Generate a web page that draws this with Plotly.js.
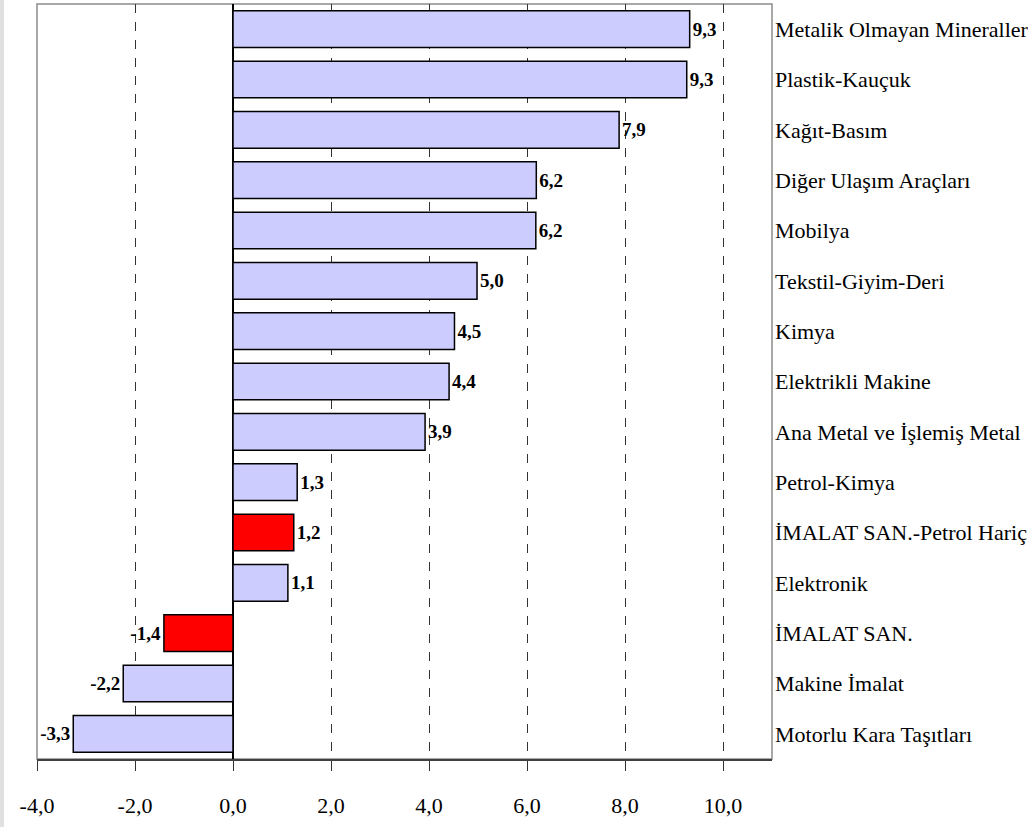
<!DOCTYPE html>
<html>
<head>
<meta charset="utf-8">
<script src="https://cdn.plot.ly/plotly-3.0.1.min.js"></script>
<style>html,body{margin:0;padding:0;background:#fff;}#chart{width:1028px;height:827px;}</style>
</head>
<body>
<div id="chart"></div>
<script>
var categories = [
  "Metalik Olmayan Mineraller",
  "Plastik-Kauçuk",
  "Kağıt-Basım",
  "Diğer Ulaşım Araçları",
  "Mobilya",
  "Tekstil-Giyim-Deri",
  "Kimya",
  "Elektrikli Makine",
  "Ana Metal ve İşlemiş Metal",
  "Petrol-Kimya",
  "İMALAT SAN.-Petrol Hariç",
  "Elektronik",
  "İMALAT SAN.",
  "Makine İmalat",
  "Motorlu Kara Taşıtları"
];
var values = [9.32, 9.26, 7.88, 6.19, 6.18, 4.98, 4.52, 4.41, 3.92, 1.31, 1.24, 1.12, -1.41, -2.24, -3.26];
var highlighted = ["İMALAT SAN.-Petrol Hariç", "İMALAT SAN."];
var xTicks = [-4, -2, 0, 2, 4, 6, 8, 10];
var xTickLabels = ["-4,0","-2,0","0,0","2,0","4,0","6,0","8,0","10,0"];

var valueLabels = values.map(function(v){ return v.toFixed(1).replace(".", ","); });
var colors = categories.map(function(c){ return highlighted.indexOf(c) >= 0 ? "#FF0000" : "#CCCCFF"; });
var boundaries = [];
for (var i = 0; i <= categories.length; i++) boundaries.push(i - 0.5);

var trace = {
  type: "bar",
  orientation: "h",
  x: values,
  y: categories,
  marker: {color: colors, line: {color: "#000", width: 1.5}},
  text: valueLabels,
  textposition: "outside",
  cliponaxis: false,
  textfont: {family: "Liberation Serif", size: 19, color: "#000", weight: "bold"},
  hoverinfo: "x+y"
};

var layout = {
  width: 1028, height: 827,
  margin: {l: 37, r: 256, t: 4, b: 68},
  paper_bgcolor: "#fff",
  plot_bgcolor: "#fff",
  showlegend: false,
  bargap: 0.27,
  font: {family: "Liberation Serif", color: "#000"},
  xaxis: {
    range: [-4, 11],
    tickvals: xTicks,
    ticktext: xTickLabels,
    ticks: "outside", ticklen: 10, tickcolor: "#333", tickwidth: 1,
    showgrid: true, gridcolor: "#333", griddash: "dash", gridwidth: 1,
    zeroline: true, zerolinecolor: "#000", zerolinewidth: 1.5,
    showline: true, linecolor: "#404040", linewidth: 2,
    tickfont: {family: "Liberation Serif", size: 22, color: "#000"},
    ticklabelstandoff: 16,
    fixedrange: true
  },
  yaxis: {
    type: "category",
    categoryorder: "array",
    categoryarray: categories,
    range: [14.5, -0.5],
    side: "right",
    ticks: "",
    showgrid: false,
    zeroline: false,
    showline: false,
    tickfont: {family: "Liberation Serif", size: 22, color: "#000"},
    ticklabelstandoff: 2,
    fixedrange: true
  },
  yaxis2: {
    overlaying: "y",
    anchor: "free",
    position: 4/15,
    side: "left",
    range: [14.5, -0.5],
    tickvals: boundaries,
    showticklabels: false,
    ticks: "outside", ticklen: 5, tickcolor: "#000", tickwidth: 1,
    showline: true, linecolor: "#000", linewidth: 1.5,
    showgrid: false, zeroline: false,
    fixedrange: true
  },
  shapes: [
    {type: "rect", xref: "paper", yref: "paper", x0: 0, x1: 1, y0: 0, y1: 1,
     line: {color: "#8c8c8c", width: 1.5}, layer: "below"},
    {type: "rect", xref: "paper", yref: "paper", x0: -37/735, x1: -33/735, y0: -68/755, y1: 4/755 + 1,
     fillcolor: "#e0e0e0", line: {width: 0}, layer: "below"}
  ]
};

Plotly.newPlot("chart", [trace], layout, {displayModeBar: false, staticPlot: true});
</script>
</body>
</html>
